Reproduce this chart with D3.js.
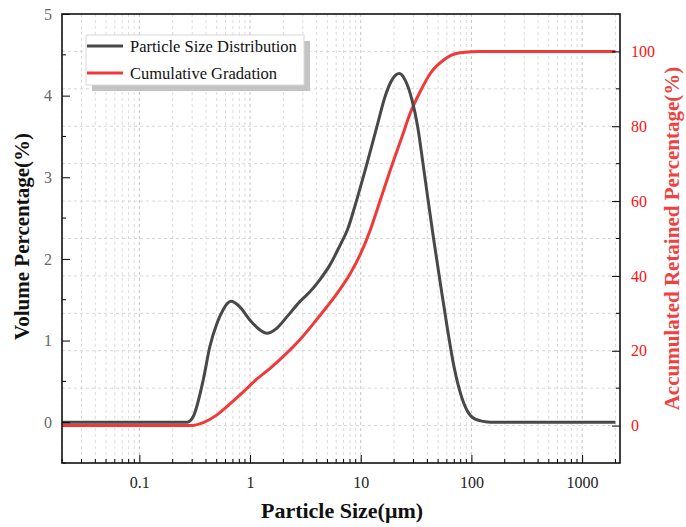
<!DOCTYPE html>
<html>
<head>
<meta charset="utf-8">
<script src="https://cdn.jsdelivr.net/npm/d3@7"></script>
<style>
  html, body { margin: 0; padding: 0; background: #fff; }
  svg text { font-family: "Liberation Serif", "Times New Roman", serif; }
</style>
</head>
<body>
<div id="psd-chart"></div>
<script>
// Particle size distribution (left axis, %)
const psdSize = [0.02, 0.1, 0.2, 0.27, 0.307, 0.378, 0.434, 0.499, 0.573, 0.62, 0.673, 0.811, 1.0, 1.23, 1.42, 1.74, 2.15, 2.83, 3.49, 4.3, 5.29, 6.52, 7.6, 9.23, 11.4, 14.0, 16.6, 19.1, 22.3, 25.2, 29.0, 32.7, 36.5, 40.6, 45.5, 52.4, 60.6, 69.6, 79.8, 91.6, 107, 128, 150, 2000];
const psdVolume = [0, 0, 0, 0, 0.07, 0.52, 0.93, 1.2, 1.38, 1.45, 1.48, 1.41, 1.25, 1.13, 1.09, 1.15, 1.29, 1.48, 1.6, 1.75, 1.93, 2.17, 2.36, 2.73, 3.17, 3.62, 3.99, 4.19, 4.27, 4.19, 3.95, 3.62, 3.17, 2.72, 2.25, 1.7, 1.15, 0.68, 0.35, 0.14, 0.04, 0.01, 0, 0];

// Cumulative gradation (right axis, %)
const cumSize = [0.02, 0.25, 0.287, 0.378, 0.499, 0.659, 0.869, 1.148, 1.516, 2.0, 2.83, 4.3, 6.0, 8.0, 10, 12.2, 15.0, 18.5, 23.6, 28.0, 34.5, 42.5, 56.1, 74.1, 97.8, 120, 2000];
const cumRetained = [0, 0, 0, 0.8, 2.8, 5.8, 9.0, 12.4, 15.3, 18.5, 23.0, 29.5, 35, 40.5, 46, 52.3, 60.2, 68.3, 77.2, 83.5, 89.3, 94.1, 97.7, 99.5, 99.9, 100, 100];

const xTickValues = [0.1, 1, 10, 100, 1000];
const xTickLabels = ["0.1", "1", "10", "100", "1000"];
const leftTicks = [0, 1, 2, 3, 4, 5];
const rightTicks = [0, 20, 40, 60, 80, 100];
const seriesNames = ["Particle Size Distribution", "Cumulative Gradation"];

(() => {
    const width = 686;
    const height = 527;
    const margin = { top: 14, right: 66, bottom: 64, left: 62 };
    const w = width - margin.left - margin.right;
    const h = height - margin.top - margin.bottom;

    const grayLine = "#484848";
    const redLine = "#f03a3a";

    const svg = d3.select("#psd-chart")
        .append("svg")
        .attr("width", width)
        .attr("height", height)
        .append("g")
        .attr("transform", `translate(${margin.left}, ${margin.top})`);

    const x = d3.scaleLog().domain([0.02, 2200]).range([0, w]);
    const yLeft = d3.scaleLinear().domain([-0.5, 5]).range([h, 0]);
    const yRight = d3.scaleLinear().domain([-10, 110]).range([h, 0]);

    // minor + major positions for the log axis
    const xAll = [];
    for (let p = -2; p <= 3; p++) {
        for (let m = 1; m <= 9; m++) {
            const v = m * Math.pow(10, p);
            if (v >= 0.02 && v <= 2200) xAll.push(v);
        }
    }
    const xMinor = xAll.filter(v => !xTickValues.includes(v));

    // Grid
    const grid = svg.append("g");
    grid.selectAll(".vminor")
        .data(xMinor)
        .join("line")
        .attr("x1", d => x(d)).attr("x2", d => x(d))
        .attr("y1", 0).attr("y2", h)
        .attr("stroke", "#dcdcdc")
        .attr("stroke-dasharray", "3,3");
    grid.selectAll(".vmajor")
        .data(xTickValues)
        .join("line")
        .attr("x1", d => x(d)).attr("x2", d => x(d))
        .attr("y1", 0).attr("y2", h)
        .attr("stroke", "#c4c4c4")
        .attr("stroke-dasharray", "3,3");
    grid.selectAll(".hgrid")
        .data(d3.range(0, 101, 10))
        .join("line")
        .attr("x1", 0).attr("x2", w)
        .attr("y1", d => yRight(d)).attr("y2", d => yRight(d))
        .attr("stroke", "#d6d6d6")
        .attr("stroke-dasharray", "3,3");

    // Curves
    const psdData = psdSize.map((s, i) => ({ s, v: psdVolume[i] }));
    const cumData = cumSize.map((s, i) => ({ s, v: cumRetained[i] }));

    svg.append("path")
        .datum(cumData)
        .attr("fill", "none")
        .attr("stroke", redLine)
        .attr("stroke-width", 3)
        .attr("d", d3.line().curve(d3.curveMonotoneX).x(d => x(d.s)).y(d => yRight(d.v)));

    svg.append("path")
        .datum(psdData)
        .attr("fill", "none")
        .attr("stroke", grayLine)
        .attr("stroke-width", 3)
        .attr("d", d3.line().curve(d3.curveMonotoneX).x(d => x(d.s)).y(d => yLeft(d.v)));

    // Bottom axis (ticks inward)
    svg.append("g")
        .attr("transform", `translate(0, ${h})`)
        .call(d3.axisBottom(x).tickValues(xTickValues).tickFormat((d, i) => xTickLabels[i]).tickSizeInner(-8).tickSizeOuter(0).tickPadding(14))
        .call(g => g.select(".domain").remove())
        .selectAll("text")
        .style("font-size", "16px")
        .style("fill", "#222");
    svg.append("g")
        .selectAll("line")
        .data(xMinor)
        .join("line")
        .attr("x1", d => x(d)).attr("x2", d => x(d))
        .attr("y1", h).attr("y2", h - 4)
        .attr("stroke", "#000");

    // Left axis
    svg.append("g")
        .call(d3.axisLeft(yLeft).tickValues(leftTicks).tickFormat(d3.format("d")).tickSizeInner(-8).tickSizeOuter(0).tickPadding(10))
        .call(g => g.select(".domain").remove())
        .selectAll("text")
        .style("font-size", "16px")
        .style("fill", "#666");
    svg.append("g")
        .selectAll("line")
        .data([-0.5, 0.5, 1.5, 2.5, 3.5, 4.5])
        .join("line")
        .attr("x1", 0).attr("x2", 4)
        .attr("y1", d => yLeft(d)).attr("y2", d => yLeft(d))
        .attr("stroke", "#000");

    // Right axis
    svg.append("g")
        .attr("transform", `translate(${w}, 0)`)
        .call(d3.axisRight(yRight).tickValues(rightTicks).tickSizeInner(-8).tickSizeOuter(0).tickPadding(11))
        .call(g => g.select(".domain").remove())
        .selectAll("text")
        .style("font-size", "16px")
        .style("fill", "#ff1010");
    svg.append("g")
        .selectAll("line")
        .data([10, 30, 50, 70, 90])
        .join("line")
        .attr("x1", w).attr("x2", w - 4)
        .attr("y1", d => yRight(d)).attr("y2", d => yRight(d))
        .attr("stroke", "#000");

    svg.selectAll(".tick line").attr("stroke", "#000");

    // Frame
    svg.append("rect")
        .attr("x", 0).attr("y", 0)
        .attr("width", w).attr("height", h)
        .attr("fill", "none")
        .attr("stroke", "#111")
        .attr("stroke-width", 1.6);

    // Axis titles
    svg.append("text")
        .attr("x", w / 2 + 1)
        .attr("y", h + 55)
        .attr("text-anchor", "middle")
        .style("font-size", "22px")
        .style("font-weight", "bold")
        .style("fill", "#111")
        .text("Particle Size(\u03bcm)");

    svg.append("text")
        .attr("transform", "rotate(-90)")
        .attr("x", -h / 2 + 2)
        .attr("y", -margin.left + 29)
        .attr("text-anchor", "middle")
        .style("font-size", "21px")
        .style("font-weight", "bold")
        .style("fill", "#111")
        .text("Volume Percentage(%)");

    svg.append("text")
        .attr("transform", "rotate(-90)")
        .attr("x", -h / 2)
        .attr("y", w + 59)
        .attr("text-anchor", "middle")
        .style("font-size", "21px")
        .style("font-weight", "bold")
        .style("fill", "#f04040")
        .text("Accumulated Retained Percentage(%)");

    // Legend
    const legend = svg.append("g").attr("transform", `translate(${86 - margin.left}, ${35 - margin.top})`);
    legend.append("rect")
        .attr("x", 6).attr("y", 6)
        .attr("width", 218).attr("height", 50)
        .attr("fill", "#c4c4c4");
    legend.append("rect")
        .attr("x", 0).attr("y", 0)
        .attr("width", 218).attr("height", 50)
        .attr("fill", "#fff")
        .attr("stroke", "#d8d8d8");

    [grayLine, redLine].forEach((c, i) => {
        legend.append("line")
            .attr("x1", 1).attr("x2", 37)
            .attr("y1", 11 + i * 27).attr("y2", 11 + i * 27)
            .attr("stroke", c)
            .attr("stroke-width", 3);
        legend.append("text")
            .attr("x", 44)
            .attr("y", 17 + i * 27)
            .style("font-size", "16.5px")
            .style("fill", "#111")
            .text(seriesNames[i]);
    });
})();
</script>
</body>
</html>
